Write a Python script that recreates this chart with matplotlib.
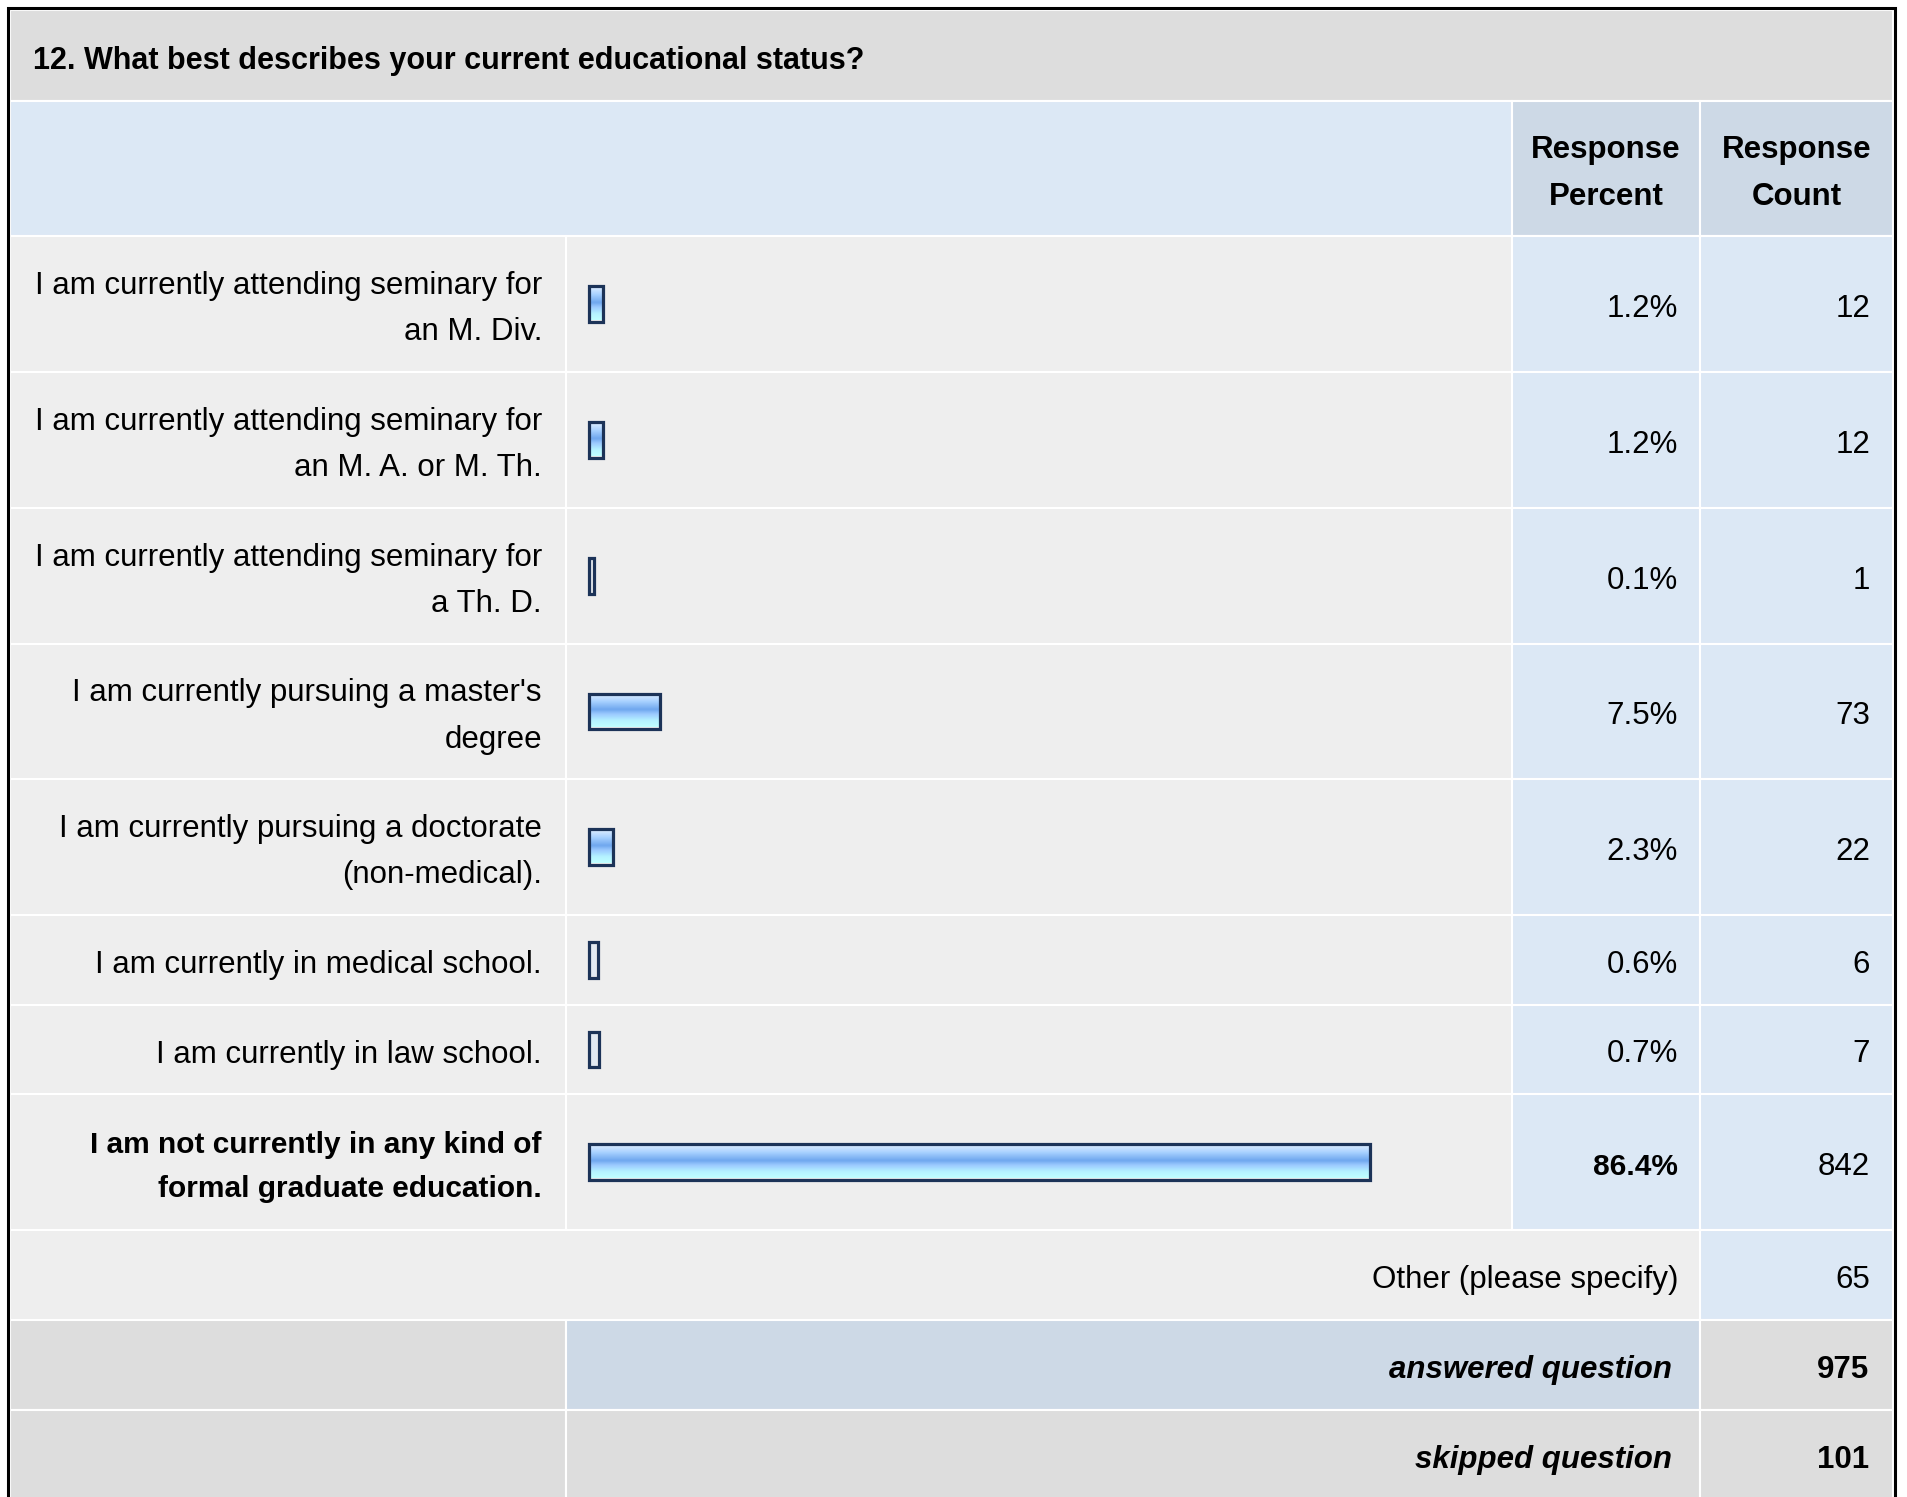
import numpy as np
import matplotlib.pyplot as plt
from matplotlib.patches import Rectangle
from matplotlib.colors import LinearSegmentedColormap

plt.rcParams['font.family'] = ['Liberation Sans', 'DejaVu Sans']

title = "12. What best describes your current educational status?"
labels = ["I am currently attending seminary for\nan M. Div.",
          "I am currently attending seminary for\nan M. A. or M. Th.",
          "I am currently attending seminary for\na Th. D.",
          "I am currently pursuing a master's\ndegree",
          "I am currently pursuing a doctorate\n(non-medical).",
          "I am currently in medical school.",
          "I am currently in law school.",
          "I am not currently in any kind of\nformal graduate education."]
percents = [1.2, 1.2, 0.1, 7.5, 2.3, 0.6, 0.7, 86.4]
counts = [12, 12, 1, 73, 22, 6, 7, 842]
other_count = 65
answered = 975
skipped = 101

W, H = 1907, 1497
fig = plt.figure(figsize=(W / 100, H / 100), dpi=100)
ax = fig.add_axes([0, 0, 1, 1])
ax.set_xlim(0, W)
ax.set_ylim(H, 0)
ax.axis('off')

# column edges and row edges (pixels)
x0, x_bar, x_pct, x_cnt, x1 = 10, 566, 1512, 1700, 1893
y_title, y_head = 10, 101
row_edges = [236, 372, 508, 644, 779, 915, 1005, 1094, 1230, 1320, 1410, 1510]

GRAY_D = '#dddddd'
GRAY_L = '#eeeeee'
BLUE_L = '#dce8f5'
BLUE_D = '#cdd9e6'
FS = 22.5
DY = 5  # text nudge down
LS = 1.7


def cell(xa, xb, ya, yb, color):
    ax.add_patch(Rectangle((xa, ya), xb - xa, yb - ya, facecolor=color,
                           edgecolor='white', linewidth=1.5))


# title
cell(x0, x1, y_title, y_head, GRAY_D)
ax.text(33, (y_title + y_head) / 2 + 6, title, fontsize=22, fontweight='bold',
        va='center', ha='left')

# header
cell(x0, x_pct, y_head, row_edges[0], BLUE_L)
cell(x_pct, x_cnt, y_head, row_edges[0], BLUE_D)
cell(x_cnt, x1, y_head, row_edges[0], BLUE_D)
hy = (y_head + row_edges[0]) / 2 + DY
ax.text((x_pct + x_cnt) / 2, hy, "Response\nPercent", fontsize=FS, fontweight='bold',
        ha='center', va='center', linespacing=LS)
ax.text((x_cnt + x1) / 2, hy, "Response\nCount", fontsize=FS, fontweight='bold',
        ha='center', va='center', linespacing=LS)

# answer rows
centers = []
for i, (lab, p, c) in enumerate(zip(labels, percents, counts)):
    ya, yb = row_edges[i], row_edges[i + 1]
    yc = (ya + yb) / 2
    centers.append(yc)
    cell(x0, x_bar, ya, yb, GRAY_L)
    cell(x_bar, x_pct, ya, yb, GRAY_L)
    cell(x_pct, x_cnt, ya, yb, BLUE_L)
    cell(x_cnt, x1, ya, yb, BLUE_L)
    top = i == len(labels) - 1
    ax.text(542, yc + DY, lab, fontsize=21.5 if top else FS, ha='right', va='center',
            linespacing=LS, fontweight='bold' if top else 'normal')
    ax.text(1678, yc + DY, f"{p:.1f}%", fontsize=21.5 if top else FS, ha='right',
            va='center', fontweight='bold' if top else 'normal')
    ax.text(1870, yc + DY, str(c), fontsize=FS, ha='right', va='center')

# other row
ya, yb = row_edges[8], row_edges[9]
cell(x0, x_cnt, ya, yb, GRAY_L)
cell(x_cnt, x1, ya, yb, BLUE_L)
ax.text(1678, (ya + yb) / 2 + DY, "Other (please specify)", fontsize=FS, ha='right', va='center')
ax.text(1870, (ya + yb) / 2 + DY, str(other_count), fontsize=FS, ha='right', va='center')

# answered row
ya, yb = row_edges[9], row_edges[10]
cell(x0, x_bar, ya, yb, GRAY_D)
cell(x_bar, x_cnt, ya, yb, BLUE_D)
cell(x_cnt, x1, ya, yb, GRAY_D)
ax.text(1672, (ya + yb) / 2 + DY, "answered question", fontsize=FS, ha='right', va='center',
        fontweight='bold', fontstyle='italic')
ax.text(1869, (ya + yb) / 2 + DY, str(answered), fontsize=FS, ha='right', va='center',
        fontweight='bold')

# skipped row
ya, yb = row_edges[10], row_edges[11]
cell(x0, x_bar, ya, yb, GRAY_D)
cell(x_bar, x_cnt, ya, yb, GRAY_D)
cell(x_cnt, x1, ya, yb, GRAY_D)
ax.text(1672, 1460, "skipped question", fontsize=FS, ha='right', va='center',
        fontweight='bold', fontstyle='italic')
ax.text(1869, 1460, str(skipped), fontsize=FS, ha='right', va='center',
        fontweight='bold')

# outer border
ax.plot([8, 8, 1895, 1895], [H + 5, 8, 8, H + 5], color='black', lw=2.2,
        solid_joinstyle='miter')

# bars: x in percent, y in pixels (100 % = 900 px)
bx0 = 591
bax = fig.add_axes([bx0 / W, 0, 900 / W, 1])
bax.axis('off')
grad = LinearSegmentedColormap.from_list(
    'glass', [(0, '#d4e8ff'), (0.2, '#a6d0ff'), (0.45, '#6fa7ee'),
              (0.6, '#9ccaff'), (0.8, '#b4f2ff'), (1, '#c0ffff')])
g = np.linspace(0, 1, 64).reshape(-1, 1)
bh = 32
pad = 1.6 / 9.0  # border sits outside the filled area
for yc, p in zip(centers, percents):
    if p >= 1:
        bax.imshow(g, cmap=grad, aspect='auto', origin='upper',
                   extent=(0, p, yc + bh / 2, yc - bh / 2), interpolation='bilinear')
    else:
        bax.barh(yc, p, height=bh, color='#e2e9f2')
bax.barh(centers, [p + 2 * pad for p in percents], height=bh + 3.2, left=-pad,
         color='none', edgecolor='#1c3358', linewidth=2.3, clip_on=False)
bax.set_xlim(0, 100)
bax.set_ylim(H, 0)

fig.savefig('out.png', dpi=100, facecolor='white')
